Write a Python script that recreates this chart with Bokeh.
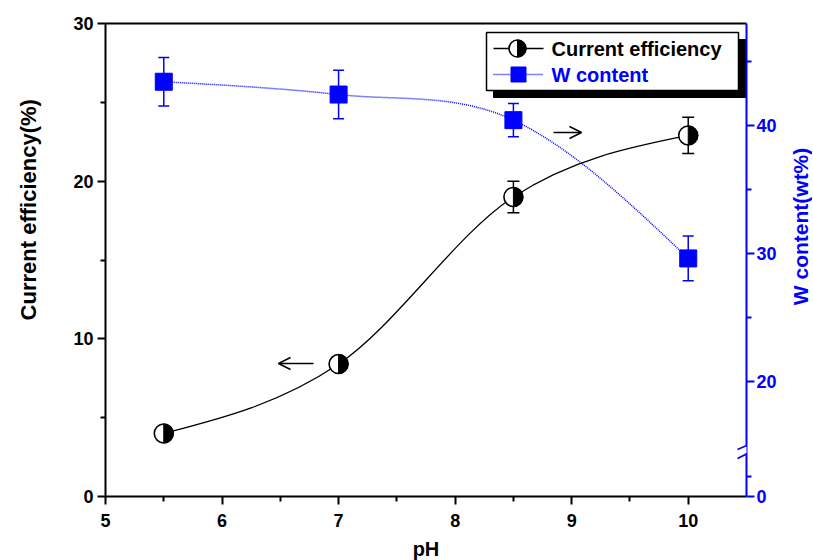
import math
from bokeh.plotting import figure
from bokeh.layouts import row
from bokeh.models import (Range1d, LinearAxis, FixedTicker, Whisker, TeeHead,
                          ColumnDataSource, Arrow, OpenHead)
from bokeh.core.properties import value
from bokeh.embed import file_html
from bokeh.resources import INLINE

# ---------------- data ----------------
ph = [5.5, 7.0, 8.5, 10.0]
efficiency = [4.0, 8.4, 19.0, 22.9]
efficiency_err = [0.2, 0.2, 1.0, 1.15]
w_content = [43.4, 42.4, 40.4, 29.6]
w_err = [1.9, 1.9, 1.3, 1.75]

x_ticks = [5, 6, 7, 8, 9, 10]
x_minor = [5.5, 6.5, 7.5, 8.5, 9.5]
left_ticks = [0, 10, 20, 30]
left_minor = [5, 15, 25]
right_ticks = [11, 20, 30, 40]      # 11 is the bottom of the broken axis, labelled "0"
right_minor = [12.6, 25, 35, 45]
right_labels = {11: "0"}

x_title = "pH"
left_title = "Current efficiency(%)"
right_title = "W content(wt%)"

BLUE = "#0000FF"
FONT = value("Liberation Sans")

# ---------------- geometry (page px) ----------------
LW, RW, H_SIDE = 50, 26, 540          # widths of the two title strips
FL, FR, FT, FB = 105, 746, 23, 496    # frame edges on the page
XR = (5.0, 10.5)
YL = (0.0, 30.0)
YR = (11.0, 47.95)


def px_x(px):
    return XR[0] + (px - FL) / (FR - FL) * (XR[1] - XR[0])


def px_yl(py):
    return YL[0] + (FB - py) / (FB - FT) * (YL[1] - YL[0])


def px_yr(py):
    return YR[0] + (FB - py) / (FB - FT) * (YR[1] - YR[0])


def bezier_data(x, y):
    n = len(x)
    m = [0.0] * n
    for i in range(1, n - 1):
        m[i] = (y[i + 1] - y[i - 1]) / (x[i + 1] - x[i - 1])
    d0 = (y[1] - y[0]) / (x[1] - x[0])
    m[0] = (3 * d0 - m[1]) / 2
    dn = (y[-1] - y[-2]) / (x[-1] - x[-2])
    m[-1] = (3 * dn - m[-2]) / 2
    d = dict(x0=[], y0=[], x1=[], y1=[], cx0=[], cy0=[], cx1=[], cy1=[])
    for i in range(n - 1):
        h = x[i + 1] - x[i]
        d["x0"].append(x[i]); d["y0"].append(y[i])
        d["x1"].append(x[i + 1]); d["y1"].append(y[i + 1])
        d["cx0"].append(x[i] + h / 3); d["cy0"].append(y[i] + m[i] * h / 3)
        d["cx1"].append(x[i + 1] - h / 3); d["cy1"].append(y[i + 1] - m[i + 1] * h / 3)
    return d


def title_strip(width, text, color, cx, cy, size):
    f = figure(width=width, height=H_SIDE, x_range=Range1d(0, width), y_range=Range1d(0, H_SIDE),
               min_border=0, toolbar_location=None, output_backend="svg",
               background_fill_color="white", border_fill_color="white")
    f.axis.visible = False
    f.xgrid.visible = False
    f.ygrid.visible = False
    f.outline_line_color = None
    f.text(x=[cx], y=[H_SIDE - cy], text=[text], angle=math.pi / 2,
           text_align="center", text_baseline="middle", text_font=FONT,
           text_font_style="bold", text_font_size=size, text_color=color)
    return f


p = figure(frame_width=FR - FL, frame_height=FB - FT,
           x_range=Range1d(*XR), y_range=Range1d(*YL),
           min_border_left=FL - LW, min_border_top=FT,
           min_border_right=786 - FR, min_border_bottom=48,
           output_backend="svg", toolbar_location=None,
           background_fill_color="white", border_fill_color="white")
p.extra_y_ranges = {"right": Range1d(*YR)}
p.xgrid.visible = False
p.ygrid.visible = False
p.outline_line_color = None


def style_axis(ax, color, major, minor):
    ax.ticker = FixedTicker(ticks=major, minor_ticks=minor)
    ax.axis_line_color = color
    ax.axis_line_width = 2
    ax.major_tick_line_color = color
    ax.major_tick_line_width = 2
    ax.minor_tick_line_color = color
    ax.minor_tick_line_width = 2
    ax.major_tick_in = 0
    ax.major_tick_out = 8
    ax.minor_tick_in = 0
    ax.minor_tick_out = 5
    ax.major_label_text_font = "Liberation Sans"
    ax.major_label_text_font_style = "bold"
    ax.major_label_text_font_size = "18px"
    ax.major_label_text_color = color
    ax.axis_label_text_font = "Liberation Sans"
    ax.axis_label_text_font_style = "bold"
    ax.axis_label_text_font_size = "20px"
    ax.axis_label_text_color = color


xaxis = p.xaxis[0]
style_axis(xaxis, "black", x_ticks, x_minor)
xaxis.axis_label = x_title
xaxis.axis_label_standoff = 8
xaxis.major_label_standoff = 9

yaxis = p.yaxis[0]
style_axis(yaxis, "black", left_ticks, left_minor)
yaxis.major_label_standoff = 4

raxis = LinearAxis(y_range_name="right")
style_axis(raxis, BLUE, right_ticks, right_minor)
raxis.major_label_overrides = right_labels
raxis.major_label_standoff = 2
p.add_layout(raxis, "right")

top = LinearAxis(ticker=FixedTicker(ticks=[]))
top.axis_line_color = "black"
top.axis_line_width = 2
top.major_tick_line_color = None
top.minor_tick_line_color = None
p.add_layout(top, "above")

# ---------------- error bars ----------------
src_e = ColumnDataSource(dict(x=ph,
                              upper=[v + e for v, e in zip(efficiency, efficiency_err)],
                              lower=[v - e for v, e in zip(efficiency, efficiency_err)]))
p.add_layout(Whisker(source=src_e, base="x", upper="upper", lower="lower",
                     line_color="black", line_width=1.5,
                     upper_head=TeeHead(size=12, line_color="black", line_width=1.5),
                     lower_head=TeeHead(size=12, line_color="black", line_width=1.5)))
src_w = ColumnDataSource(dict(x=ph,
                              upper=[v + e for v, e in zip(w_content, w_err)],
                              lower=[v - e for v, e in zip(w_content, w_err)]))
p.add_layout(Whisker(source=src_w, base="x", upper="upper", lower="lower",
                     y_range_name="right",
                     line_color=BLUE, line_width=1.5,
                     upper_head=TeeHead(size=11, line_color=BLUE, line_width=1.5),
                     lower_head=TeeHead(size=11, line_color=BLUE, line_width=1.5)))

# ---------------- curves ----------------
p.bezier(source=ColumnDataSource(bezier_data(ph, w_content)), x0="x0", y0="y0", x1="x1", y1="y1",
         cx0="cx0", cy0="cy0", cx1="cx1", cy1="cy1", y_range_name="right",
         line_color=BLUE, line_width=1.5, line_dash="1 1")
p.bezier(source=ColumnDataSource(bezier_data(ph, efficiency)), x0="x0", y0="y0", x1="x1", y1="y1",
         cx0="cx0", cy0="cy0", cx1="cx1", cy1="cy1",
         line_color="black", line_width=1.3)

# ---------------- markers ----------------
p.scatter(ph, w_content, marker="square", size=17, fill_color=BLUE, line_color=BLUE,
          y_range_name="right")
p.scatter(ph, efficiency, marker="circle", size=19, fill_color="white",
          line_color="black", line_width=1.6)
p.wedge(ph, efficiency, radius=9.5, radius_units="screen",
        start_angle=-math.pi / 2, end_angle=math.pi / 2, direction="anticlock",
        fill_color="black", line_color="black")

# ---------------- direction arrows ----------------
p.add_layout(Arrow(end=OpenHead(size=12, line_width=1.6, line_color="black"),
                   x_start=px_x(313), y_start=px_yl(363), x_end=px_x(278), y_end=px_yl(363),
                   line_color="black", line_width=1.6))
p.add_layout(Arrow(end=OpenHead(size=12, line_width=1.6, line_color="black"),
                   x_start=px_x(553), y_start=px_yl(132), x_end=px_x(581), y_end=px_yl(132),
                   line_color="black", line_width=1.6))

# ---------------- axis break marks ----------------
p.add_layout(Arrow(end=None, x_start=px_x(737), y_start=px_yr(453.5), x_end=px_x(755), y_end=px_yr(445),
                   line_color="white", line_width=6, y_range_name="right"))
for y0, y1 in ((449, 441), (458, 449)):
    p.add_layout(Arrow(end=None, x_start=px_x(737), y_start=px_yr(y0), x_end=px_x(755), y_end=px_yr(y1),
                       line_color=BLUE, line_width=1.6, y_range_name="right"))

# ---------------- legend ----------------
p.quad(left=[px_x(493)], right=[px_x(745)], top=[px_yl(39)], bottom=[px_yl(97)],
       fill_color="black", line_color="black")
p.quad(left=[px_x(486)], right=[px_x(738)], top=[px_yl(32)], bottom=[px_yl(90)],
       fill_color="white", line_color="black", line_width=1.5)
p.line([px_x(493), px_x(543)], [px_yl(48), px_yl(48)], line_color="black", line_width=1.3)
p.scatter([px_x(517)], [px_yl(48)], marker="circle", size=17, fill_color="white",
          line_color="black", line_width=1.6)
p.wedge([px_x(517)], [px_yl(48)], radius=8.5, radius_units="screen",
        start_angle=-math.pi / 2, end_angle=math.pi / 2, direction="anticlock",
        fill_color="black", line_color="black")
p.line([px_x(493), px_x(543)], [px_yl(74), px_yl(74)], line_color=BLUE, line_width=1.5,
       line_dash="1 1")
p.scatter([px_x(518)], [px_yl(74)], marker="square", size=15, fill_color=BLUE, line_color=BLUE)
p.text([px_x(551)], [px_yl(48)], text=["Current efficiency"], text_font=FONT,
       text_font_style="bold", text_font_size="20px", text_baseline="middle", text_color="black")
p.text([px_x(551)], [px_yl(74)], text=["W content"], text_font=FONT,
       text_font_style="bold", text_font_size="20px", text_baseline="middle", text_color=BLUE)

# ---------------- axis titles (left / right strips) ----------------
left_strip = title_strip(LW, left_title, "black", 28, 223, "22px")
right_strip = title_strip(RW, right_title, BLUE, 800 - (LW + 786 - LW), 243, "21px")

layout = row(left_strip, p, right_strip, spacing=0)
open("out.html", "w").write(file_html(layout, INLINE))
